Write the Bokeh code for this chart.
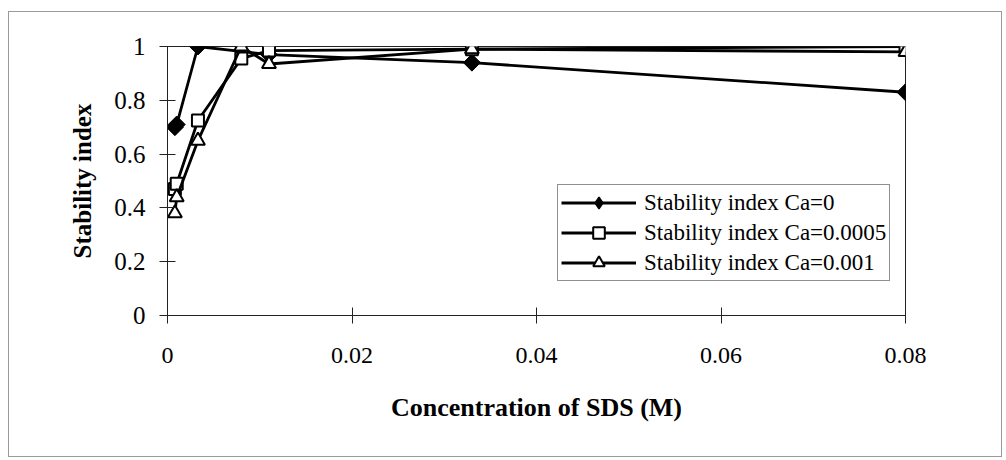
import numpy as np
from bokeh.plotting import figure
from bokeh.models import Range1d, FixedTicker, NumeralTickFormatter, Legend, LegendItem
from bokeh.embed import file_html
from bokeh.resources import INLINE

# ---- data ----
x_ca0 = [0.0008, 0.001, 0.0033, 0.011, 0.033, 0.08]
y_ca0 = [0.70, 0.71, 1.00, 0.97, 0.94, 0.83]

x_ca0005 = [0.0008, 0.001, 0.0033, 0.008, 0.011, 0.033, 0.08]
y_ca0005 = [0.47, 0.49, 0.725, 0.955, 0.985, 0.99, 1.00]

x_ca001 = [0.0008, 0.001, 0.0033, 0.008, 0.011, 0.033, 0.08]
y_ca001 = [0.38, 0.44, 0.65, 1.00, 0.935, 0.99, 0.98]

labels = ["Stability index Ca=0", "Stability index Ca=0.0005", "Stability index Ca=0.001"]
x_ticks = [0, 0.02, 0.04, 0.06, 0.08]
y_ticks = [0, 0.2, 0.4, 0.6, 0.8, 1]

FONT = "Liberation Serif"

p = figure(width=994, height=446, output_backend="svg", toolbar_location=None,
           x_range=Range1d(0, 0.08), y_range=Range1d(0, 1),
           min_border_left=158, min_border_right=98, min_border_top=34, min_border_bottom=143)
p.styles = {"border": "1px solid #9a9a9a", "margin-top": "11px", "margin-left": "8px"}
p.background_fill_color = "white"
p.border_fill_color = "white"
p.outline_line_color = "#222222"
p.outline_line_width = 1
p.grid.visible = False

for ax in (p.xaxis[0], p.yaxis[0]):
    ax.axis_line_color = "#222222"
    ax.major_tick_line_color = "#222222"
    ax.major_tick_in = 8
    ax.major_tick_out = 8
    ax.minor_tick_line_color = None
    ax.major_label_text_font = FONT
    ax.major_label_text_font_size = "24px"
    ax.major_label_text_color = "black"
    ax.axis_label_text_font = FONT
    ax.axis_label_text_font_style = "bold"
    ax.axis_label_text_color = "black"
    ax.formatter = NumeralTickFormatter(format="0.[00]")

p.xaxis.ticker = FixedTicker(ticks=x_ticks)
p.yaxis.ticker = FixedTicker(ticks=y_ticks)
p.xaxis.axis_label = "Concentration of SDS (M)"
p.yaxis.axis_label = "Stability index"
p.xaxis.axis_label_text_font_size = "26px"
p.yaxis.axis_label_text_font_size = "25px"
p.yaxis.major_label_text_font_size = "25px"
p.xaxis.major_label_standoff = 24
p.xaxis.axis_label_standoff = 27
p.yaxis.major_label_standoff = 14
p.yaxis.axis_label_standoff = 15

lw = 2.8
l1 = p.line(x_ca0, y_ca0, line_color="black", line_width=lw)
# diamond used for the legend glyph (legend ignores marker angle); hidden under the rotated squares
d1 = p.scatter(x_ca0, y_ca0, marker="diamond", size=14,
               fill_color="black", line_color="black", line_width=1.5)
m1 = p.scatter(x_ca0, y_ca0, marker="square", angle=np.pi / 4, size=12,
               fill_color="black", line_color="black", line_width=1)
l2 = p.line(x_ca0005, y_ca0005, line_color="black", line_width=lw)
m2 = p.scatter(x_ca0005, y_ca0005, marker="square", size=12,
               fill_color="white", line_color="black", line_width=2)
l3 = p.line(x_ca001, y_ca001, line_color="black", line_width=lw)
m3 = p.scatter(x_ca001, y_ca001, marker="triangle", size=14,
               fill_color="white", line_color="black", line_width=2)

legend = Legend(items=[LegendItem(label=labels[0], renderers=[l1, d1]),
                       LegendItem(label=labels[1], renderers=[l2, m2]),
                       LegendItem(label=labels[2], renderers=[l3, m3])],
                location=(390, 34))
legend.label_text_font = FONT
legend.label_text_font_size = "23px"
legend.label_text_color = "black"
legend.glyph_width = 75
legend.glyph_height = 29
legend.label_height = 29
legend.spacing = 1
legend.padding = 3
legend.label_standoff = 8
legend.border_line_color = "#222222"
legend.border_line_width = 1
legend.background_fill_color = "white"
legend.background_fill_alpha = 1
p.add_layout(legend, "center")

open("out.html", "w").write(file_html(p, INLINE))
